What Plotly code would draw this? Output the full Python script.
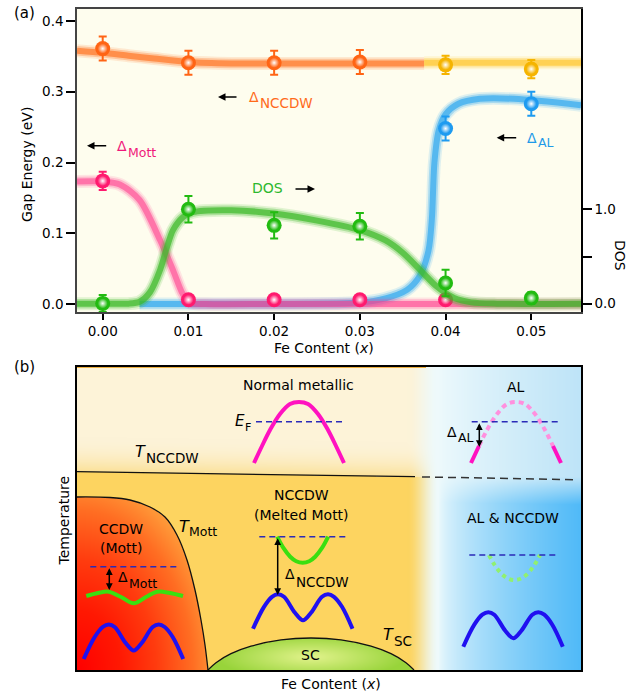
import base64, struct, zlib
import numpy as np
import plotly.graph_objects as go

# ================= panel (a) data =================
x_nccdw = [0.00, 0.01, 0.02, 0.03]
gap_nccdw = [0.361, 0.341, 0.341, 0.342]
err_nccdw = [0.017, 0.017, 0.017, 0.017]

x_nccdw_al = [0.04, 0.05]
gap_nccdw_al = [0.338, 0.332]
err_nccdw_al = [0.013, 0.013]

x_mott = [0.00, 0.01, 0.02, 0.03, 0.04]
gap_mott = [0.174, 0.006, 0.006, 0.006, 0.006]
err_mott = [0.013, 0.0, 0.0, 0.0, 0.0]

x_al = [0.04, 0.05]
gap_al = [0.248, 0.283]
err_al = [0.017, 0.017]

x_dos = [0.00, 0.01, 0.02, 0.03, 0.04, 0.05]
dos = [0.003, 1.00, 0.83, 0.82, 0.22, 0.06]
err_dos = [0.09, 0.14, 0.14, 0.14, 0.14, 0.06]

# guide-to-the-eye curves
cx_nccdw = [-0.003, 0.0, 0.003, 0.006, 0.010, 0.015, 0.020, 0.025, 0.030, 0.0375]
cy_nccdw = [0.358, 0.355, 0.351, 0.347, 0.342, 0.340, 0.340, 0.340, 0.340, 0.340]
cx_nccdw_al = [0.0375, 0.045, 0.0558]
cy_nccdw_al = [0.341, 0.341, 0.341]
cx_mott = [-0.003, 0.0, 0.002, 0.0043, 0.0067, 0.0082, 0.0093, 0.0101, 0.012, 0.02, 0.03, 0.04, 0.0558]
cy_mott = [0.173, 0.173, 0.169, 0.147, 0.090, 0.048, 0.015, 0.002, 0.0, 0.0, 0.0, 0.0, 0.0]
cx_dos = [-0.003, 0.0, 0.003, 0.0043, 0.0055, 0.0067, 0.0075, 0.0082, 0.0094, 0.0105, 0.015,
          0.020, 0.025, 0.030, 0.033, 0.035, 0.037, 0.039, 0.041, 0.043, 0.046, 0.0558]
cy_dos = [0.0, 0.0, 0.0, 0.02, 0.12, 0.36, 0.60, 0.78, 0.92, 0.97, 0.99,
          0.955, 0.88, 0.78, 0.67, 0.54, 0.36, 0.18, 0.06, 0.014, 0.0, 0.0]
cx_al = [0.0043, 0.010, 0.020, 0.030, 0.033, 0.0355, 0.0370, 0.0380, 0.0384, 0.0387,
         0.0392, 0.0400, 0.0415, 0.0440, 0.0480, 0.0558]
cy_al = [0.0, 0.0, 0.0, 0.002, 0.008, 0.020, 0.040, 0.075, 0.120, 0.200,
         0.245, 0.268, 0.283, 0.290, 0.290, 0.281]

x_ticks = [0.00, 0.01, 0.02, 0.03, 0.04, 0.05]
y_ticks = [0.0, 0.1, 0.2, 0.3, 0.4]
dos_ticks = [0.0, 0.5, 1.0]
dos_ticktext = ["0.0", "", "1.0"]

# ================= panel (b) schematic (box units: 0..504 x 0..303) =================
t_nccdw_x = [0, 338]
t_nccdw_y = [198.3, 193.3]
t_nccdw_dash_x = [345, 498]
t_nccdw_dash_y = [193.1, 190.3]
t_mott_x = [0, 33, 53, 73, 88, 100, 110, 118, 124, 128, 131]
t_mott_y = [173, 172.5, 170, 163, 153, 135, 110, 80, 50, 25, 0]
dome_x = [131, 139, 154, 174, 204, 234, 264, 294, 314, 329, 337]
dome_y = [0, 7.3, 16.3, 23.8, 30.1, 32, 30.1, 23.8, 16.3, 7.3, 0]

metal_x = [177, 185, 193, 203, 213, 222, 231, 241, 251, 259, 267]
metal_y = [207, 224, 240, 256, 266, 268, 266, 256, 240, 224, 207]
al_x = [394, 402, 410, 420, 430, 439, 448, 458, 468, 476, 484]
al_y = [207, 224, 240, 256, 266, 268, 266, 256, 240, 224, 207]
ccdw_green_x = [9.3, 21, 31.7, 44, 56.7, 69, 80, 93, 106]
ccdw_green_y = [74, 77, 78.3, 73, 66.7, 73, 78.3, 77, 74]
m_dx = [0, 11, 19, 25, 31, 42, 50, 58, 69, 75, 81, 89, 99.5]
m_dy = [0, 22, 32, 34.5, 32, 16, 8.5, 16, 32, 34.5, 32, 22, 0]
u_dx = [-25.5, -19.5, -12.5, -6.5, 0, 6.5, 12.5, 19.5, 25.5]
u_dy = [0, -11, -20, -24.5, -26, -24.5, -20, -11, 0]

FONT = "DejaVu Sans"
W, H = 644, 694


def PX(x):
    return x / W


def PY(y):
    return 1 - y / H


# ---------------- background bitmap for panel (b) ----------------
def make_bg():
    wb, hb = 504, 303
    X, Yr = np.meshgrid(np.arange(wb) + 0.5, np.arange(hb) + 0.5)
    Y = hb - Yr
    yline = np.interp(X, [0, 498, 504], [198.3, 190.3, 190.2])
    above = Y > yline
    cream = np.array([253, 243, 216.])
    cream2 = np.array([251, 225, 152.])
    yellow = np.array([253, 212, 96.])
    s = np.clip(1 - (Y - yline) / 35, 0, 1) ** 2
    warm = np.where(above[..., None], cream + (cream2 - cream) * s[..., None], yellow)
    tm = np.interp(X, t_mott_x, t_mott_y, right=-1)
    inside = (Y < tm) & (X < 131)
    d = np.sqrt((X / 145) ** 2 + (Y / 200) ** 2)
    sd = [0, 0.3, 0.55, 0.8, 0.95, 1.15]
    sc = [(255, 0, 0), (255, 25, 3), (255, 60, 15), (255, 110, 35), (255, 150, 55), (253, 200, 90)]
    red = np.stack([np.interp(d, sd, [c[i] for c in sc]) for i in range(3)], -1)
    warm = np.where(inside[..., None], red, warm)
    dm = np.interp(X, dome_x, dome_y, left=-1, right=-1)
    ind = Y < dm
    dd = np.clip(np.sqrt(((X - 234) / 95) ** 2 + ((Y - 13) / 22) ** 2), 0, 1)
    light = np.array([226, 243, 140.])
    edge = np.array([152, 212, 58.])
    green = light + (edge - light) * dd[..., None]
    warm = np.where(ind[..., None], green, warm)
    white = np.array([238, 250, 252.])
    a = np.clip((X - 330) / 32, 0, 1)
    a = a * a * (3 - 2 * a)
    mix = warm + (white - warm) * a[..., None]
    t = np.clip((X - 362) / (504 - 362), 0, 1)
    btop = white + (np.array([190, 228, 248.]) - white) * (t ** 0.8)[..., None]
    bbot = white + (np.array([80, 186, 248.]) - white) * (t ** 0.65)[..., None]
    v = np.clip((yline - Y + 3) / 28, 0, 1)
    blue = btop + (bbot - btop) * v[..., None]
    img = np.where((X >= 362)[..., None], blue, mix)
    return np.clip(img, 0, 255).astype(np.uint8)


def png_uri(img):
    h, w, _ = img.shape
    raw = b"".join(b"\x00" + img[r].tobytes() for r in range(h))

    def chunk(tag, data):
        return struct.pack(">I", len(data)) + tag + data + struct.pack(">I", zlib.crc32(tag + data) & 0xffffffff)

    png = (b"\x89PNG\r\n\x1a\n" + chunk(b"IHDR", struct.pack(">IIBBBBB", w, h, 8, 2, 0, 0, 0))
           + chunk(b"IDAT", zlib.compress(raw, 9)) + chunk(b"IEND", b""))
    return "data:image/png;base64," + base64.b64encode(png).decode()


fig = go.Figure()


def glow(xs, ys, rgb, yaxis="y", k=1.0):
    for w, a in [(13, 0.15), (9.5, 0.3), (6, 0.7)]:
        fig.add_trace(go.Scatter(x=xs, y=ys, mode="lines", xaxis="x", yaxis=yaxis,
                                 line=dict(color=f"rgba({rgb},{a * k:.3f})", width=w, shape="spline", smoothing=0.8),
                                 hoverinfo="skip", showlegend=False))


glow(cx_al, cy_al, "50,170,240")
glow(cx_mott, cy_mott, "255,60,140", k=0.8)
glow(cx_nccdw, cy_nccdw, "255,120,40")
glow(cx_nccdw_al, cy_nccdw_al, "255,200,50")
glow(cx_dos, cy_dos, "60,185,40", yaxis="y2")


def points(xs, ys, errs, color, yaxis="y"):
    fig.add_trace(go.Scatter(x=xs, y=ys, mode="markers", xaxis="x", yaxis=yaxis,
                             marker=dict(color=color, size=15, line=dict(width=0)),
                             error_y=dict(type="data", array=errs, color=color, thickness=2, width=4),
                             showlegend=False))
    fig.add_trace(go.Scatter(x=xs, y=ys, mode="markers", xaxis="x", yaxis=yaxis,
                             marker=dict(color=color, size=10, line=dict(width=0),
                                         gradient=dict(type="radial", color="white")),
                             showlegend=False, hoverinfo="skip"))


points(x_nccdw, gap_nccdw, err_nccdw, "#FF6414")
points(x_nccdw_al, gap_nccdw_al, err_nccdw_al, "#F5B400")
points(x_mott, gap_mott, err_mott, "#FF1A6E")
points(x_al, gap_al, err_al, "#1E9BF0")
points(x_dos, dos, err_dos, "#22BB11", yaxis="y2")

# ---------------- panel (b) lines ----------------


def bline(xs, ys, color, width, dash=None, shape="spline"):
    fig.add_trace(go.Scatter(x=xs, y=ys, mode="lines", xaxis="x2", yaxis="y3",
                             line=dict(color=color, width=width, dash=dash, shape=shape),
                             hoverinfo="skip", showlegend=False))


BLACK = "#111111"
bline(t_nccdw_x, t_nccdw_y, BLACK, 1.3, shape="linear")
bline(t_nccdw_dash_x, t_nccdw_dash_y, "#333333", 1.5, dash="8px,5px", shape="linear")
bline(t_mott_x, t_mott_y, BLACK, 1.3)
bline(dome_x, dome_y, BLACK, 1.3)

MAG, PALE_MAG = "#FF12C0", "#FF90DE"
GRN, PALE_GRN = "#3ADF10", "#90F070"
BLU, EFC = "#2010F0", "#2A2AB8"
bline(metal_x, metal_y, MAG, 4)
bline(al_x[1:10], al_y[1:10], PALE_MAG, 4, dash="5px,4px")
bline(al_x[:2], al_y[:2], MAG, 4)
bline(al_x[9:], al_y[9:], MAG, 4)
bline(ccdw_green_x, ccdw_green_y, GRN, 4)
for (ax0, ay0) in [(6.7, 11), (176, 41.2), (386.3, 23.3)]:
    bline([ax0 + d for d in m_dx], [ay0 + d for d in m_dy], BLU, 4)
bline([225.7 + d for d in u_dx], [133.3 + d for d in u_dy], GRN, 4)
bline([437.5 + d for d in u_dx], [115 + d * 0.96 for d in u_dy], PALE_GRN, 4, dash="4px,4px")
for (x0, x1, yy) in [(179, 266, 248.3), (394.7, 482, 248.3), (13.3, 100.7, 103.3),
                     (182.3, 269.7, 133.3), (392.3, 479.7, 115)]:
    bline([x0, x1], [yy, yy], EFC, 1.4, dash="6px,4px", shape="linear")

anns = []


def txt(s, x, y, size=14, color="black", xanchor="center", angle=0):
    anns.append(dict(text=s, x=PX(x), y=PY(y), xref="paper", yref="paper", xanchor=xanchor,
                     yanchor="middle", showarrow=False, textangle=angle,
                     font=dict(family=FONT, size=size, color=color)))


def parrow(hx, hy, tx, ty):
    anns.append(dict(text="", x=PX(hx), y=PY(hy), xref="paper", yref="paper", ax=tx - hx, ay=ty - hy,
                     showarrow=True, arrowhead=2, arrowsize=1, arrowwidth=1.5, arrowcolor="black"))


def barrow(x, y0, y1):
    anns.append(dict(text="", x=x, y=y1, xref="x2", yref="y3", ax=x, ay=y0, axref="x2", ayref="y3",
                     showarrow=True, arrowhead=2, arrowsize=0.9, arrowwidth=1.5, arrowcolor="black",
                     arrowside="end+start"))


ORG, PNK, GRT, BLT = "#FF6A1A", "#F0187A", "#2DB82D", "#1F9AE8"
# panel (a) labels
txt("Δ", 247, 97, 14, ORG, "left"); txt("NCCDW", 257.5, 103, 13.5, ORG, "left")
parrow(218, 97, 238, 97)
txt("Δ", 115, 146, 14, PNK, "left"); txt("Mott", 125.5, 152.5, 12.5, PNK, "left")
parrow(87, 145.7, 107.7, 145.7)
txt("DOS", 267, 188, 14, GRT)
parrow(315, 189, 294, 189)
txt("Δ", 525, 138, 14, BLT, "left"); txt("AL", 535.5, 143, 12.5, BLT, "left")
parrow(496.7, 137.7, 517.7, 137.7)
txt("Gap Energy (eV)", 27, 165, 14, angle=-90)
txt("DOS", 620, 255, 14, angle=90)
txt("Fe Content (<i>x</i>)", 324, 348, 14)
txt("(a)", 24, 13, 15)
txt("(b)", 25, 367, 15)
# panel (b) labels
txt("Normal metallic", 298, 385)
txt("AL", 515.7, 387)
txt("NCCDW", 301.7, 495); txt("(Melted Mott)", 301.7, 515)
txt("CCDW", 121.3, 529.3); txt("(Mott)", 121.3, 548)
txt("AL &amp; NCCDW", 512.7, 518.3)
txt("SC", 310, 655)
txt("<i>T</i>", 133, 451.5, 16, xanchor="left"); txt("NCCDW", 143.5, 458, 13.5, xanchor="left")
txt("<i>T</i>", 176.7, 526, 16, xanchor="left"); txt("Mott", 187, 531, 12.5, xanchor="left")
txt("<i>T</i>", 380.5, 634, 16, xanchor="left"); txt("SC", 392, 641, 13.5, xanchor="left")
txt("Δ", 116, 577, 14, xanchor="left"); txt("Mott", 126.5, 583, 12.5, xanchor="left")
txt("Δ", 283, 574, 14, xanchor="left"); txt("NCCDW", 293.5, 582, 13.5, xanchor="left")
txt("Δ", 445, 432, 14, xanchor="left"); txt("AL", 455.5, 437, 12.5, xanchor="left")
txt("<i>E</i>", 233, 421, 15, xanchor="left"); txt("F", 243, 427, 11, xanchor="left")
txt("Temperature", 63.5, 521, 14, angle=-90)
txt("Fe Content (<i>x</i>)", 331, 684, 14)
barrow(32.3, 103.3, 80)
barrow(200.7, 133.3, 75)
barrow(402.3, 248.3, 223)

xdom = [77 / W, 581 / W]
tickfont = dict(family=FONT, size=13.5, color="black")
fig.update_layout(
    width=W, height=H, margin=dict(l=0, r=0, t=0, b=0),
    paper_bgcolor="white", plot_bgcolor="rgba(0,0,0,0)", showlegend=False,
    xaxis=dict(domain=xdom, range=[-0.0030, 0.0558], anchor="y", tickvals=x_ticks, tickformat=".2f",
               ticks="outside", ticklen=6, tickwidth=1.5, tickcolor="black", showgrid=False, zeroline=False,
               showline=True, mirror=True, linecolor="#444", linewidth=1.5, tickfont=tickfont),
    yaxis=dict(domain=[PY(312), PY(9)], range=[-0.0113, 0.41696], anchor="x", tickvals=y_ticks,
               tickformat=".1f", ticks="outside", ticklen=9, tickwidth=2, tickcolor="black", showgrid=False,
               zeroline=False, showline=True, mirror=True, linecolor="#444", linewidth=1.5, tickfont=tickfont),
    yaxis2=dict(overlaying="y", side="right", anchor="x", range=[-0.088, 3.122], tickvals=dos_ticks,
                ticktext=dos_ticktext, ticks="outside", ticklen=9, tickwidth=2, tickcolor="black",
                showgrid=False, zeroline=False, showline=True, linecolor="black", linewidth=1.5,
                tickfont=tickfont),
    xaxis2=dict(domain=xdom, range=[0, 504], anchor="y3", showticklabels=False, ticks="", showgrid=False,
                zeroline=False, showline=True, mirror=True, linecolor="black", linewidth=1.5),
    yaxis3=dict(domain=[PY(670), PY(367)], range=[0, 303], anchor="x2", showticklabels=False, ticks="",
                showgrid=False, zeroline=False, showline=True, mirror=True, linecolor="black", linewidth=1.5),
    annotations=anns,
    shapes=[dict(type="rect", xref="x", yref="y", x0=-0.0030, x1=0.0558, y0=-0.0113, y1=0.41696,
                 fillcolor="#FEFDEE", line=dict(width=0), layer="below"),
            dict(type="line", xref="x2", yref="y3", x0=0, x1=349, y0=303, y1=303,
                 line=dict(color="#EDB040", width=2), layer="above")],
    images=[dict(source=png_uri(make_bg()), xref="x2", yref="y3", x=0, y=303, sizex=504, sizey=303,
                 sizing="stretch", xanchor="left", yanchor="top", layer="below")],
)

fig.write_html("out.html", config={"displayModeBar": False},
               post_script="document.body.style.margin='0';document.body.style.overflow='hidden';")
